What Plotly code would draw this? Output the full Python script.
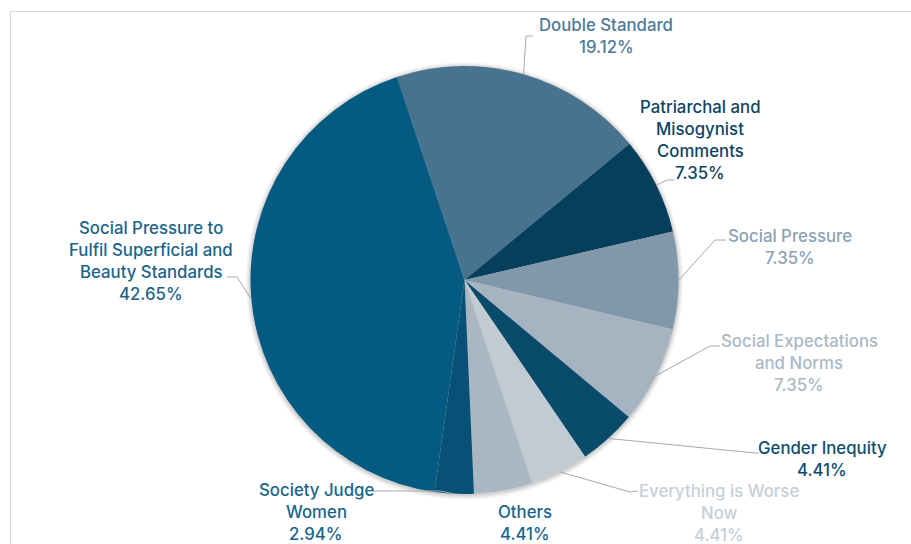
import math
import plotly.graph_objects as go

# Slice order, clockwise from the first slice
categories = [
    "Double Standard",
    "Patriarchal and Misogynist Comments",
    "Social Pressure",
    "Social Expectations and Norms",
    "Gender Inequity",
    "Everything is Worse Now",
    "Others",
    "Society Judge Women",
    "Social Pressure to Fulfil Superficial and Beauty Standards",
]
shares = [19.12, 7.35, 7.35, 7.35, 4.41, 4.41, 4.41, 2.94, 42.65]

# How each category name wraps in its label
label_lines = [
    ["Double Standard"],
    ["Patriarchal and", "Misogynist", "Comments"],
    ["Social Pressure"],
    ["Social Expectations", "and Norms"],
    ["Gender Inequity"],
    ["Everything is Worse", "Now"],
    ["Others"],
    ["Society Judge", "Women"],
    ["Social Pressure to", "Fulfil Superficial and", "Beauty Standards"],
]

slice_colors = ["#48738F", "#063F5C", "#8098AA", "#A6B4C1", "#084B6B",
                "#C2CBD4", "#AAB6C2", "#065175", "#045A80"]
text_colors = ["#4F7A97", "#0E4462", "#8BA1B4", "#ABB8C5", "#0F4D6C",
               "#C6CFD8", "#1B6489", "#1B6489", "#1B6489"]

W, H = 911, 544
CX, CY, R = 464.5, 280.0, 214.0
ROTATION = -18.4
LINE_GAP = 22

# label block: centre x, y of first line (pixels)
label_pos = [(606, 25), (700, 107), (790, 236), (799, 341), (822, 448),
             (719, 491), (525, 512), (316, 490), (151, 228)]
# leader line points from the slice edge outwards (pixels); None = no leader
leader_pts = [
    [(526, 36), (533, 36)],
    [(667, 180), (674, 180)],
    [(715, 240), (726, 240)],
    [(710, 346), (720, 346)],
    [(755, 453), (759, 453)],
    [(630, 492), (638, 491)],
    None,
    [(440, 491), (372, 491)],
    [(237, 277), (227, 277)],
]


def px(x):
    return x / W


def py(y):
    return 1 - y / H


fig = go.Figure(go.Pie(
    labels=categories,
    values=shares,
    sort=False,
    direction="clockwise",
    rotation=ROTATION,
    marker=dict(colors=slice_colors, line=dict(width=0)),
    textinfo="none",
    hoverinfo="label+percent",
    showlegend=False,
    domain=dict(x=[px(CX - R), px(CX + R)], y=[py(CY + R), py(CY - R)]),
))

shapes = []
# chart frame
shapes.append(dict(type="rect", xref="paper", yref="paper",
                   x0=px(10.5), x1=px(W + 20), y0=py(H + 20), y1=py(11.5),
                   line=dict(color="#D9D9D9", width=1.2), fillcolor="rgba(0,0,0,0)",
                   layer="below"))
# soft halo around the pie
for k, a in [(5, 0.025), (4, 0.03), (3, 0.035), (2, 0.045), (1, 0.06)]:
    shapes.append(dict(type="circle", xref="paper", yref="paper",
                       x0=px(CX - R - k), x1=px(CX + R + k),
                       y0=py(CY + R + k + 1), y1=py(CY - R - k + 1),
                       line=dict(width=0), fillcolor=f"rgba(0,0,0,{a})",
                       layer="below"))

annotations = []
total = sum(shares)
cum = 0.0
for i, v in enumerate(shares):
    mid = ROTATION + (cum + v / 2) / total * 360
    cum += v
    ang = math.radians(mid)
    ax, ay = CX + R * math.sin(ang), CY - R * math.cos(ang)
    pts = leader_pts[i]
    if pts:
        path = f"M {px(ax)},{py(ay)}" + "".join(
            f" L {px(x)},{py(y)}" for x, y in pts)
        shapes.append(dict(type="path", xref="paper", yref="paper", path=path,
                           line=dict(color="#A8A8A8", width=1)))
    lines = label_lines[i] + [f"{v:.2f}%"]
    lx, ly = label_pos[i]
    for j, t in enumerate(lines):
        annotations.append(dict(
            text=t, x=px(lx), y=py(ly + j * LINE_GAP), xref="paper", yref="paper",
            xanchor="center", yanchor="middle", showarrow=False,
            font=dict(family="Inter, 'Open Sans', sans-serif", size=16.8,
                      weight=500, color=text_colors[i]),
        ))

fig.update_layout(
    width=W, height=H,
    margin=dict(l=0, r=0, t=0, b=0),
    paper_bgcolor="white",
    plot_bgcolor="white",
    shapes=shapes,
    annotations=annotations,
)

fig.write_html("out.html")
